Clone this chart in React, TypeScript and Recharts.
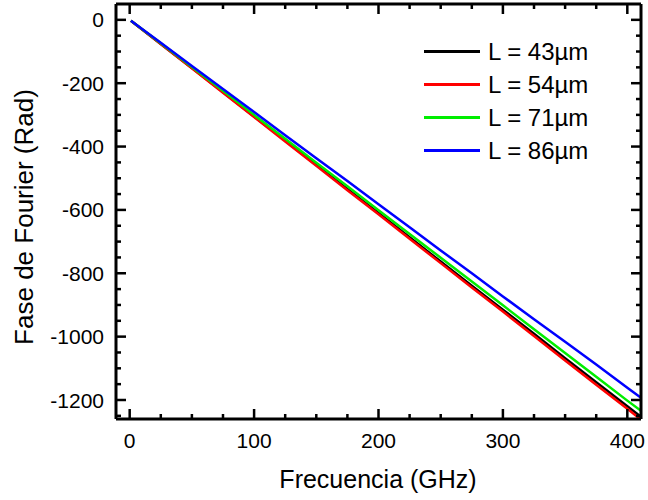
import { LineChart, Line, XAxis, YAxis, Legend } from 'recharts'

// frequency samples (GHz) and Fourier phase (rad) for each length
const freq = [1, 25, 50, 75, 100, 125, 150, 175, 200, 225, 250, 275, 300, 325, 350, 375, 400, 411]
const phase43 = [-3, -76, -152, -228, -305, -381, -458, -534, -610, -686, -763, -839, -915, -991, -1068, -1144, -1220, -1253]
const phase54 = [-3, -76, -153, -230, -307, -384, -461, -538, -614, -691, -768, -845, -921, -998, -1075, -1152, -1228, -1262]
const phase71 = [-3, -74, -149, -224, -300, -375, -451, -525, -601, -676, -751, -826, -901, -977, -1052, -1127, -1202, -1234]
const phase86 = [-3, -72, -146, -218, -291, -364, -437, -509, -582, -655, -728, -800, -873, -945, -1016, -1088, -1161, -1193]

const xTicks = [0, 25, 50, 75, 100, 125, 150, 175, 200, 225, 250, 275, 300, 325, 350, 375, 400]
const yTicks = [0, -50, -100, -150, -200, -250, -300, -350, -400, -450, -500, -550, -600, -650, -700, -750, -800, -850, -900, -950, -1000, -1050, -1100, -1150, -1200, -1250]

const seriesKeys = ['l43', 'l54', 'l71', 'l86']
const seriesNames = ['L = 43\u00b5m', 'L = 54\u00b5m', 'L = 71\u00b5m', 'L = 86\u00b5m']
const seriesColors = ['#000000', '#ff0000', '#00ee00', '#0000ff']

const data = freq.map((f, i) => ({
  f,
  l43: phase43[i],
  l54: phase54[i],
  l71: phase71[i],
  l86: phase86[i],
}))

const FONT = 'Arial, "Liberation Sans", sans-serif'
const X_DOMAIN = [-11, 411]
const Y_DOMAIN = [-1260, 50]

function BottomTick(props: any) {
  const { x, y, payload } = props
  const major = payload.value % 100 === 0
  return (
    <g>
      <line x1={x} x2={x} y1={y} y2={y - (major ? 10 : 5)} stroke="#000" strokeWidth={2.5} />
      {major && (
        <text x={x} y={y + 29} textAnchor="middle" fontSize={21} fontFamily={FONT} fill="#000">
          {payload.value}
        </text>
      )}
    </g>
  )
}

function TopTick(props: any) {
  const { x, y, payload } = props
  const major = payload.value % 100 === 0
  return <line x1={x} x2={x} y1={y} y2={y + (major ? 10 : 5)} stroke="#000" strokeWidth={2.5} />
}

function LeftTick(props: any) {
  const { x, y, payload } = props
  const major = payload.value % 200 === 0
  return (
    <g>
      <line x1={x} x2={x + (major ? 10 : 5)} y1={y} y2={y} stroke="#000" strokeWidth={2.5} />
      {major && (
        <text x={x - 12} y={y} dy="0.36em" textAnchor="end" fontSize={21} fontFamily={FONT} fill="#000">
          {payload.value}
        </text>
      )}
    </g>
  )
}

function RightTick(props: any) {
  const { x, y, payload } = props
  const major = payload.value % 200 === 0
  return <line x1={x} x2={x - (major ? 10 : 5)} y1={y} y2={y} stroke="#000" strokeWidth={2.5} />
}

function LegendBox() {
  return (
    <div style={{ fontFamily: FONT, fontSize: 24, color: '#000' }}>
      {seriesNames.map((name, i) => (
        <div key={name} style={{ display: 'flex', alignItems: 'center', height: 33 }}>
          <span style={{ display: 'inline-block', width: 56, height: 2.5, background: seriesColors[i], marginRight: 8 }} />
          <span>{name}</span>
        </div>
      ))}
    </div>
  )
}

export default function App() {
  const axisLine = { stroke: '#000', strokeWidth: 3 }
  return (
    <div style={{ position: 'absolute', left: 0, top: 0, background: '#fff' }}>
      <LineChart width={648} height={500} data={data} margin={{ top: 3, right: 6, bottom: 0, left: 0 }}>
        <XAxis
          dataKey="f"
          type="number"
          domain={X_DOMAIN}
          ticks={xTicks}
          interval={0}
          allowDataOverflow
          height={81}
          axisLine={axisLine}
          tickLine={false}
          tickSize={0}
          tickMargin={0}
          tick={BottomTick}
          label={{
            content: () => (
              <text x={378} y={488} textAnchor="middle" fontSize={25} fontFamily={FONT} fill="#000">
                Frecuencia (GHz)
              </text>
            ),
          }}
        />
        <XAxis
          xAxisId="top"
          orientation="top"
          dataKey="f"
          type="number"
          domain={X_DOMAIN}
          ticks={xTicks}
          interval={0}
          allowDataOverflow
          height={1}
          axisLine={axisLine}
          tickLine={false}
          tickSize={0}
          tickMargin={0}
          tick={TopTick}
        />
        <YAxis
          type="number"
          domain={Y_DOMAIN}
          ticks={yTicks}
          interval={0}
          allowDataOverflow
          width={116}
          axisLine={axisLine}
          tickLine={false}
          tickSize={0}
          tickMargin={0}
          tick={LeftTick}
          label={{
            content: () => (
              <text
                transform="translate(33,217) rotate(-90)"
                textAnchor="middle"
                fontSize={26}
                fontFamily={FONT}
                fill="#000"
              >
                Fase de Fourier (Rad)
              </text>
            ),
          }}
        />
        <YAxis
          yAxisId="right"
          orientation="right"
          type="number"
          domain={Y_DOMAIN}
          ticks={yTicks}
          interval={0}
          allowDataOverflow
          width={1}
          axisLine={axisLine}
          tickLine={false}
          tickSize={0}
          tickMargin={0}
          tick={RightTick}
        />
        <Legend
          layout="vertical"
          align="center"
          verticalAlign="middle"
          content={LegendBox}
          wrapperStyle={{ left: 424, top: 35, width: 'auto' }}
        />
        {seriesKeys.map((key, i) => (
          <Line
            key={key}
            dataKey={key}
            name={seriesNames[i]}
            xAxisId={i === 3 ? 'top' : 0}
            yAxisId={i === 3 ? 'right' : 0}
            stroke={seriesColors[i]}
            strokeWidth={2.5}
            dot={false}
            isAnimationActive={false}
          />
        ))}
      </LineChart>
    </div>
  )
}
